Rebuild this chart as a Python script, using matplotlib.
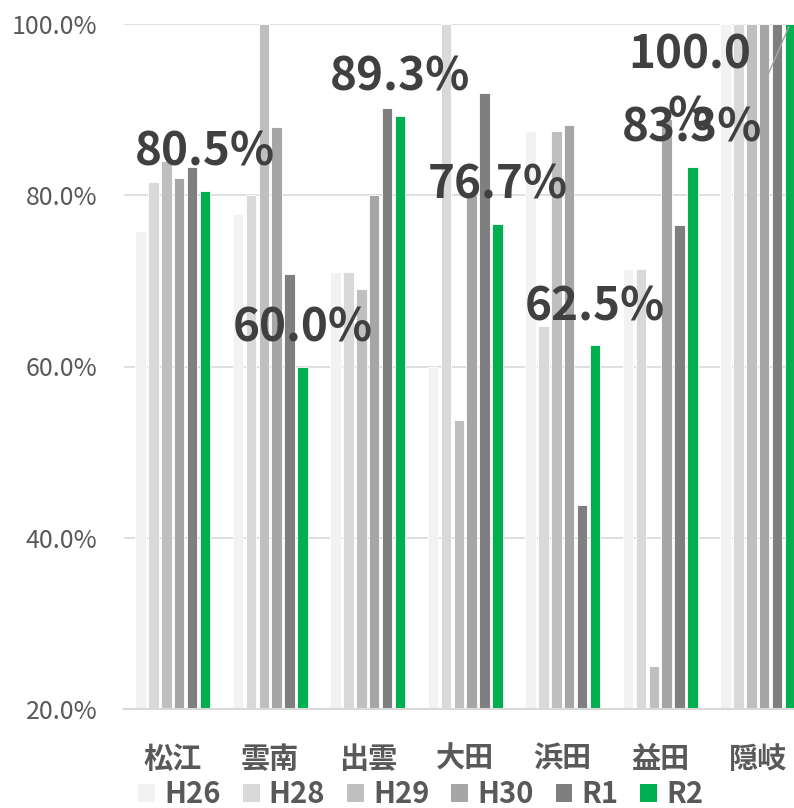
import numpy as np
import matplotlib.pyplot as plt
from matplotlib.ticker import PercentFormatter

plt.rcParams['font.family'] = ['Noto Sans CJK JP', 'DejaVu Sans']

# データ
areas = ['松江', '雲南', '出雲', '大田', '浜田', '益田', '隠岐']
years = ['H26', 'H28', 'H29', 'H30', 'R1', 'R2']
h26 = [75.8, 77.8, 71.0, 60.0, 87.5, 71.4, 100.0]
h28 = [81.6, 80.0, 71.0, 100.0, 64.7, 71.4, 100.0]
h29 = [84.0, 100.0, 69.0, 53.8, 87.5, 25.0, 100.0]
h30 = [82.0, 88.0, 80.0, 80.0, 88.2, 88.9, 100.0]
r1 = [83.3, 70.8, 90.2, 92.0, 43.8, 76.5, 100.0]
r2 = [80.5, 60.0, 89.3, 76.7, 62.5, 83.3, 100.0]

series = [h26, h28, h29, h30, r1, r2]
colors = ['#f2f2f2', '#d9d9d9', '#bfbfbf', '#a6a6a6', '#7f7f7f', '#00b050']

fig = plt.figure(figsize=(7.94, 8.08), dpi=100)
# 右端の棒は元画像でも切れている
ax = fig.add_axes([124 / 794, 1 - 709 / 808, 682.5 / 794, 685 / 808])

x = np.arange(len(areas))
pitch = 0.1323
width = 0.108
bars_r2 = None
for k, (vals, c, lab) in enumerate(zip(series, colors, years)):
    b = ax.bar(x + (k - 2.5) * pitch, vals, width, bottom=0, color=c,
               edgecolor='white', linewidth=0.6, label=lab, zorder=2)
    if lab == 'R2':
        bars_r2 = b

ax.set_ylim(20, 100)
ax.set_xlim(-0.5, len(areas) - 0.5)
ax.yaxis.set_major_formatter(PercentFormatter(xmax=100, decimals=1))
ax.set_yticks([20, 40, 60, 80, 100])
ax.grid(axis='y', color='#d9d9d9', linewidth=1.2, zorder=0)
ax.set_axisbelow(True)
for s in ['top', 'right', 'left']:
    ax.spines[s].set_visible(False)
ax.spines['bottom'].set_color('#d9d9d9')
ax.spines['bottom'].set_linewidth(1.5)
ax.tick_params(axis='y', length=0, pad=19, labelsize=18, labelcolor='#595959')
ax.tick_params(axis='x', length=0, pad=25, labelsize=21, labelcolor='#595959')
ax.set_xticks(x)
ax.set_xticklabels(areas, fontweight='bold')

# R2 のデータラベル
for i, (rect, v) in enumerate(zip(bars_r2, r2)):
    cx = rect.get_x() + rect.get_width() / 2
    if v >= 100:
        ax.annotate('', xy=(cx, v), xytext=(-16, -37), textcoords='offset points',
                    arrowprops=dict(arrowstyle='-', color='#a6a6a6', lw=1),
                    annotation_clip=False)
        ax.annotate(f'{v:.1f}\n%', xy=(cx, v), xytext=(-72, -45),
                    textcoords='offset points', ha='center', va='center',
                    fontsize=33, fontweight='bold', color='#404040',
                    linespacing=1.45, annotation_clip=False, zorder=5)
    else:
        ax.annotate(f'{v:.1f}%', xy=(cx, v), xytext=(0, 18),
                    textcoords='offset points', ha='center', va='baseline',
                    fontsize=33, fontweight='bold', color='#404040',
                    annotation_clip=False, zorder=5)

leg = fig.legend(loc='center', bbox_to_anchor=(421 / 794, 1 - 794 / 808),
                 ncol=6, frameon=False, fontsize=21, handlelength=0.58,
                 handleheight=0.58, handletextpad=0.31, columnspacing=0.75,
                 borderaxespad=0, borderpad=0)
for t in leg.get_texts():
    t.set_color('#595959')
    t.set_fontweight('bold')
for h in leg.legend_handles:
    h.set_linewidth(0)

fig.savefig('out.png', dpi=100)
